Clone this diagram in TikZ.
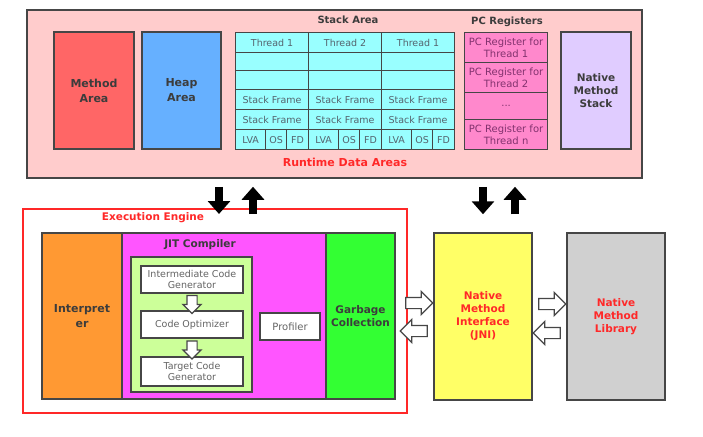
\documentclass[tikz,border=0pt]{standalone}
\usepackage{fontspec}
\setmainfont{DejaVu Sans}
\usepackage{tikz}
\usetikzlibrary{arrows.meta,shapes.arrows}
\definecolor{boxgray}{RGB}{70,70,70}
\definecolor{labeltext}{RGB}{60,60,60}
\definecolor{celltext}{RGB}{85,100,110}
\definecolor{boxtext}{RGB}{100,100,100}
\definecolor{rdapink}{RGB}{255,204,204}
\definecolor{methodred}{RGB}{255,102,102}
\definecolor{heapblue}{RGB}{102,176,255}
\definecolor{stackcyan}{RGB}{153,255,255}
\definecolor{pcpink}{RGB}{255,136,204}
\definecolor{pctext}{RGB}{130,50,110}
\definecolor{nmslilac}{RGB}{224,204,255}
\definecolor{engred}{RGB}{255,40,40}
\definecolor{interorange}{RGB}{255,153,51}
\definecolor{jitmagenta}{RGB}{255,85,255}
\definecolor{optgreen}{RGB}{204,255,153}
\definecolor{gcgreen}{RGB}{51,255,51}
\definecolor{jniyellow}{RGB}{255,255,102}
\definecolor{libgray}{RGB}{208,208,208}

\begin{document}
\begin{tikzpicture}[x=1pt, y=-1pt,
    box/.style={draw=boxgray, line width=1.5pt, inner sep=0pt},
    cell/.style={draw=boxgray, line width=1.2pt, fill=stackcyan, anchor=north west, inner sep=0pt,
      font=\fontsize{9.5}{11}\selectfont, text=celltext},
    pcreg/.style={draw=boxgray, line width=1.2pt, fill=pcpink, anchor=north west, inner sep=0pt,
      minimum width=83pt, align=center, font=\fontsize{10}{12}\selectfont, text=pctext},
    title/.style={font=\fontsize{10}{13}\selectfont\bfseries, text=labeltext},
    biglabel/.style={font=\fontsize{11}{15}\selectfont\bfseries, text=labeltext, align=center},
    redlabel/.style={font=\fontsize{10.5}{13}\selectfont\bfseries, text=engred, align=center},
    whitebox/.style={draw=boxgray, line width=1.2pt, fill=white, inner sep=0pt, align=center,
      font=\fontsize{9.5}{11}\selectfont, text=boxtext},
    bigarrow/.style={line width=8pt, -{Triangle[length=13pt, width=22pt]}},
    hollow/.style={single arrow, draw=boxgray, fill=white, line width=1.2pt, inner sep=5pt,
      single arrow head extend=6pt, minimum height=27pt},
    smallarrow/.style={single arrow, draw=boxgray, fill=white, line width=1.2pt, inner sep=4.5pt,
      single arrow head extend=4pt, minimum height=18pt, shape border rotate=270}]

    \fill[white] (0,0) rectangle (703,436);
    \useasboundingbox (0,0) rectangle (703,436);

    % Runtime data areas
    \node[box, fill=rdapink, minimum width=615pt, minimum height=168pt] (rda) at (334.5,94) {};
    \node[box, fill=methodred, minimum width=80pt, minimum height=117pt, biglabel] (method) at (94,90.5) {Method\\Area};
    \node[box, fill=heapblue, minimum width=79pt, minimum height=117pt, biglabel] (heap) at (181.5,90.5) {Heap\\Area};

    % Stack area
    \node[title] (stacktitle) at (348,20) {Stack Area};
    \foreach \c/\thr in {0/Thread 1,1/Thread 2,2/Thread 1} {
      \pgfmathsetmacro{\xo}{235+73*\c}
      \node[cell, minimum width=73pt, minimum height=20pt] (thr\c) at (\xo,32) {\thr};
      \node[cell, minimum width=73pt, minimum height=18pt] (blankA\c) at (\xo,52) {};
      \node[cell, minimum width=73pt, minimum height=19pt] (blankB\c) at (\xo,70) {};
      \node[cell, minimum width=73pt, minimum height=20pt] (sfA\c) at (\xo,89) {Stack Frame};
      \node[cell, minimum width=73pt, minimum height=20pt] (sfB\c) at (\xo,109) {Stack Frame};
      \node[cell, minimum width=30pt, minimum height=20pt] (lva\c) at (\xo,129) {LVA};
      \node[cell, minimum width=21pt, minimum height=20pt] (os\c) at (\xo+30,129) {OS};
      \node[cell, minimum width=22pt, minimum height=20pt] (fd\c) at (\xo+51,129) {FD};
    }

    % PC registers
    \node[title] (pctitle) at (507,22) {PC Registers};
    \node[pcreg, minimum height=30pt] (pc1) at (464,32) {PC Register for\\Thread 1};
    \node[pcreg, minimum height=30pt] (pc2) at (464,62) {PC Register for\\Thread 2};
    \node[pcreg, minimum height=27pt] (pcdots) at (464,92) {...};
    \node[pcreg, minimum height=30pt] (pcn) at (464,119) {PC Register for\\Thread n};

    \node[box, fill=nmslilac, minimum width=70pt, minimum height=117pt, biglabel,
      font=\fontsize{10.5}{13}\selectfont\bfseries] (nms) at (596,90.5) {Native\\Method\\Stack};
    \node[redlabel, font=\fontsize{11}{13}\selectfont\bfseries] (rdatitle) at (345,162) {Runtime Data Areas};

    % Execution engine
    \node[draw=engred, line width=2pt, minimum width=384pt, minimum height=204pt] (engine) at (215,311) {};
    \node[redlabel] (enginetitle) at (153,218) {Execution Engine};
    \node[box, fill=interorange, minimum width=80pt, minimum height=166pt, biglabel] (interp) at (82,316) {Interpret\\er};
    \node[box, fill=jitmagenta, minimum width=204pt, minimum height=166pt] (jit) at (224,316) {};
    \node[box, fill=gcgreen, minimum width=69pt, minimum height=166pt, biglabel,
      font=\fontsize{10.5}{13}\selectfont\bfseries] (gc) at (360.5,316) {Garbage\\Collection};
    \node[title, font=\fontsize{10.5}{13}\selectfont\bfseries] (jittitle) at (200,245) {JIT Compiler};
    \node[box, line width=1.2pt, fill=optgreen, minimum width=121pt, minimum height=135pt] (optpanel) at (191.5,324.5) {};
    \node[whitebox, minimum width=102pt, minimum height=27pt] (icg) at (192,279.5) {Intermediate Code\\Generator};
    \node[whitebox, minimum width=102pt, minimum height=27pt] (opt) at (192,324.5) {Code Optimizer};
    \node[whitebox, minimum width=102pt, minimum height=29pt] (tcg) at (192,371.5) {Target Code\\Generator};
    \node[whitebox, minimum width=60pt, minimum height=27pt, font=\fontsize{10}{12}\selectfont] (profiler) at (290,326.5) {Profiler};
    \path (icg) -- node[smallarrow] (icgopt) {} (opt);
    \path (opt) -- node[smallarrow] (opttcg) {} (tcg);

    % Native side
    \node[box, fill=jniyellow, minimum width=98pt, minimum height=167pt, redlabel] (jni) at (483,316.5) {Native\\Method\\Interface\\(JNI)};
    \node[box, fill=libgray, minimum width=98pt, minimum height=167pt, redlabel] (lib) at (616,316.5) {Native\\Method\\Library};

    % Arrows
    \draw[bigarrow] ([yshift=-8pt]rda.south -| 219,0) -- ([yshift=-6pt]engine.north -| 219,0);
    \draw[bigarrow] ([yshift=-6pt]engine.north -| 253,0) -- ([yshift=-8pt]rda.south -| 253,0);
    \draw[bigarrow] ([yshift=-8pt]rda.south -| 483,0) -- ([yshift=18pt]jni.north -| 483,0);
    \draw[bigarrow] ([yshift=18pt]jni.north -| 515,0) -- ([yshift=-8pt]rda.south -| 515,0);

    \path ([xshift=4pt]gc.east |- 0,303) -- node[hollow] (gcjni) {} (jni.west |- 0,303);
    \path ([xshift=4pt]gc.east |- 0,331) -- node[hollow, shape border rotate=180] (jnigc) {} (jni.west |- 0,331);
    \path (jni.east |- 0,304) -- node[hollow] (jnilib) {} (lib.west |- 0,304);
    \path (jni.east |- 0,333) -- node[hollow, shape border rotate=180] (libjni) {} (lib.west |- 0,333);
\end{tikzpicture}
\end{document}
